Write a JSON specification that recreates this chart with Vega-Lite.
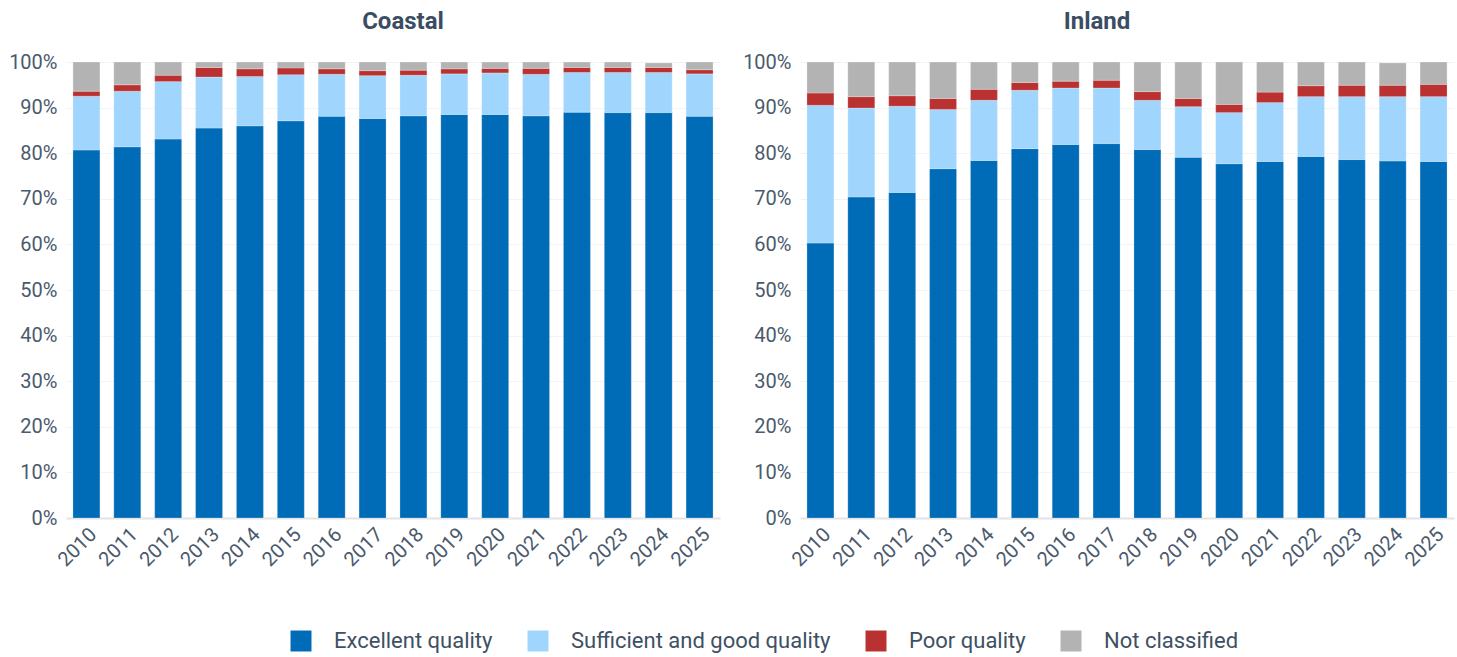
{
  "$schema": "https://vega.github.io/schema/vega-lite/v6.json",
  "padding": {"left": 8, "right": 2, "top": 10, "bottom": 4},
  "config": {
    "font": "Roboto",
    "view": {"stroke": null},
    "legend": {"layout": {"bottom": {"anchor": "middle"}}},
    "title": {"font": "Roboto", "fontSize": 24, "fontWeight": "bold", "color": "#3b4d63", "anchor": "middle", "offset": 18},
    "axis": {"labelFont": "Roboto", "labelColor": "#4a5a6c", "labelFontSize": 20, "ticks": false, "title": null}
  },
  "data": {"values": [
    {"region": "Coastal", "year": 2010, "Excellent quality": 80.7, "Sufficient and good quality": 11.8, "Poor quality": 1.1, "Not classified": 6.4},
    {"region": "Coastal", "year": 2011, "Excellent quality": 81.4, "Sufficient and good quality": 12.2, "Poor quality": 1.4, "Not classified": 5.0},
    {"region": "Coastal", "year": 2012, "Excellent quality": 83.1, "Sufficient and good quality": 12.6, "Poor quality": 1.4, "Not classified": 2.9},
    {"region": "Coastal", "year": 2013, "Excellent quality": 85.5, "Sufficient and good quality": 11.2, "Poor quality": 2.1, "Not classified": 1.2},
    {"region": "Coastal", "year": 2014, "Excellent quality": 86.0, "Sufficient and good quality": 10.8, "Poor quality": 1.7, "Not classified": 1.5},
    {"region": "Coastal", "year": 2015, "Excellent quality": 87.1, "Sufficient and good quality": 10.1, "Poor quality": 1.5, "Not classified": 1.3},
    {"region": "Coastal", "year": 2016, "Excellent quality": 88.1, "Sufficient and good quality": 9.2, "Poor quality": 1.2, "Not classified": 1.5},
    {"region": "Coastal", "year": 2017, "Excellent quality": 87.6, "Sufficient and good quality": 9.4, "Poor quality": 1.1, "Not classified": 1.9},
    {"region": "Coastal", "year": 2018, "Excellent quality": 88.2, "Sufficient and good quality": 8.9, "Poor quality": 1.1, "Not classified": 1.8},
    {"region": "Coastal", "year": 2019, "Excellent quality": 88.5, "Sufficient and good quality": 8.9, "Poor quality": 1.1, "Not classified": 1.5},
    {"region": "Coastal", "year": 2020, "Excellent quality": 88.5, "Sufficient and good quality": 9.1, "Poor quality": 1.0, "Not classified": 1.4},
    {"region": "Coastal", "year": 2021, "Excellent quality": 88.2, "Sufficient and good quality": 9.1, "Poor quality": 1.3, "Not classified": 1.4},
    {"region": "Coastal", "year": 2022, "Excellent quality": 89.0, "Sufficient and good quality": 8.7, "Poor quality": 1.1, "Not classified": 1.2},
    {"region": "Coastal", "year": 2023, "Excellent quality": 88.9, "Sufficient and good quality": 8.8, "Poor quality": 1.1, "Not classified": 1.2},
    {"region": "Coastal", "year": 2024, "Excellent quality": 88.9, "Sufficient and good quality": 8.8, "Poor quality": 1.1, "Not classified": 1.0},
    {"region": "Coastal", "year": 2025, "Excellent quality": 88.1, "Sufficient and good quality": 9.3, "Poor quality": 0.9, "Not classified": 1.7},
    {"region": "Inland", "year": 2010, "Excellent quality": 60.3, "Sufficient and good quality": 30.2, "Poor quality": 2.7, "Not classified": 6.8},
    {"region": "Inland", "year": 2011, "Excellent quality": 70.4, "Sufficient and good quality": 19.5, "Poor quality": 2.5, "Not classified": 7.6},
    {"region": "Inland", "year": 2012, "Excellent quality": 71.4, "Sufficient and good quality": 18.9, "Poor quality": 2.3, "Not classified": 7.4},
    {"region": "Inland", "year": 2013, "Excellent quality": 76.6, "Sufficient and good quality": 13.0, "Poor quality": 2.4, "Not classified": 8.0},
    {"region": "Inland", "year": 2014, "Excellent quality": 78.4, "Sufficient and good quality": 13.2, "Poor quality": 2.4, "Not classified": 6.0},
    {"region": "Inland", "year": 2015, "Excellent quality": 81.0, "Sufficient and good quality": 12.8, "Poor quality": 1.7, "Not classified": 4.5},
    {"region": "Inland", "year": 2016, "Excellent quality": 81.9, "Sufficient and good quality": 12.4, "Poor quality": 1.5, "Not classified": 4.2},
    {"region": "Inland", "year": 2017, "Excellent quality": 82.1, "Sufficient and good quality": 12.2, "Poor quality": 1.7, "Not classified": 4.0},
    {"region": "Inland", "year": 2018, "Excellent quality": 80.8, "Sufficient and good quality": 10.8, "Poor quality": 1.9, "Not classified": 6.5},
    {"region": "Inland", "year": 2019, "Excellent quality": 79.1, "Sufficient and good quality": 11.1, "Poor quality": 1.8, "Not classified": 8.0},
    {"region": "Inland", "year": 2020, "Excellent quality": 77.7, "Sufficient and good quality": 11.2, "Poor quality": 1.8, "Not classified": 9.3},
    {"region": "Inland", "year": 2021, "Excellent quality": 78.2, "Sufficient and good quality": 12.9, "Poor quality": 2.3, "Not classified": 6.6},
    {"region": "Inland", "year": 2022, "Excellent quality": 79.3, "Sufficient and good quality": 13.1, "Poor quality": 2.4, "Not classified": 5.2},
    {"region": "Inland", "year": 2023, "Excellent quality": 78.6, "Sufficient and good quality": 13.8, "Poor quality": 2.5, "Not classified": 5.1},
    {"region": "Inland", "year": 2024, "Excellent quality": 78.3, "Sufficient and good quality": 14.1, "Poor quality": 2.5, "Not classified": 4.9},
    {"region": "Inland", "year": 2025, "Excellent quality": 78.2, "Sufficient and good quality": 14.2, "Poor quality": 2.7, "Not classified": 4.9}
  ]},
  "transform": [
    {"fold": ["Excellent quality", "Sufficient and good quality", "Poor quality", "Not classified"], "as": ["category", "share"]},
    {"calculate": "indexof(['Excellent quality', 'Sufficient and good quality', 'Poor quality', 'Not classified'], datum.category)", "as": "stackOrder"}
  ],
  "spacing": 22,
  "hconcat": [
    {
      "title": {"text": "Coastal", "dx": 10},
      "transform": [{"filter": "datum.region === 'Coastal'"}],
      "width": 654,
      "height": 456,
      "mark": {"type": "bar", "stroke": "white", "strokeWidth": 0.6, "strokeOpacity": 0.4},
      "encoding": {
        "x": {
          "field": "year", "type": "ordinal",
          "scale": {"paddingInner": 0.34, "paddingOuter": 0.17},
          "axis": {"labelAngle": -45, "labelFontSize": 20, "domainColor": "#e3e3e3", "domainWidth": 2, "labelPadding": 6}
        },
        "y": {
          "field": "share", "type": "quantitative", "stack": "zero",
          "scale": {"domain": [0, 100]},
          "axis": {"values": [0, 10, 20, 30, 40, 50, 60, 70, 80, 90, 100], "labelExpr": "datum.value + '%'", "labelFontSize": 20, "labelPadding": 9, "domain": false, "gridColor": "#f3f3f3"}
        },
        "order": {"field": "stackOrder", "type": "quantitative", "sort": "ascending"},
        "color": {
          "field": "category", "type": "nominal",
          "sort": ["Excellent quality", "Sufficient and good quality", "Poor quality", "Not classified"],
          "scale": {"domain": ["Excellent quality", "Sufficient and good quality", "Poor quality", "Not classified"], "range": ["#006bb7", "#a0d5fd", "#b93231", "#b3b3b3"]},
          "legend": {"title": " ", "titleOrient": "left", "titlePadding": 66, "titleFontSize": 10, "orient": "bottom", "direction": "horizontal", "symbolType": "square", "symbolSize": 440, "symbolStrokeWidth": 0, "labelFontSize": 22, "labelLimit": 0, "labelColor": "#3e5064", "columnPadding": 34, "labelOffset": 22, "offset": 60}
        }
      }
    },
    {
      "title": {"text": "Inland", "dx": -30},
      "transform": [{"filter": "datum.region === 'Inland'"}],
      "width": 654,
      "height": 456,
      "mark": {"type": "bar", "stroke": "white", "strokeWidth": 0.6, "strokeOpacity": 0.4},
      "encoding": {
        "x": {
          "field": "year", "type": "ordinal",
          "scale": {"paddingInner": 0.34, "paddingOuter": 0.17},
          "axis": {"labelAngle": -45, "labelFontSize": 20, "domainColor": "#e3e3e3", "domainWidth": 2, "labelPadding": 6}
        },
        "y": {
          "field": "share", "type": "quantitative", "stack": "zero",
          "scale": {"domain": [0, 100]},
          "axis": {"values": [0, 10, 20, 30, 40, 50, 60, 70, 80, 90, 100], "labelExpr": "datum.value + '%'", "labelFontSize": 20, "labelPadding": 9, "domain": false, "gridColor": "#f3f3f3"}
        },
        "order": {"field": "stackOrder", "type": "quantitative", "sort": "ascending"},
        "color": {
          "field": "category", "type": "nominal",
          "sort": ["Excellent quality", "Sufficient and good quality", "Poor quality", "Not classified"],
          "scale": {"domain": ["Excellent quality", "Sufficient and good quality", "Poor quality", "Not classified"], "range": ["#006bb7", "#a0d5fd", "#b93231", "#b3b3b3"]},
          "legend": {"title": " ", "titleOrient": "left", "titlePadding": 66, "titleFontSize": 10, "orient": "bottom", "direction": "horizontal", "symbolType": "square", "symbolSize": 440, "symbolStrokeWidth": 0, "labelFontSize": 22, "labelLimit": 0, "labelColor": "#3e5064", "columnPadding": 34, "labelOffset": 22, "offset": 60}
        }
      }
    }
  ]
}
